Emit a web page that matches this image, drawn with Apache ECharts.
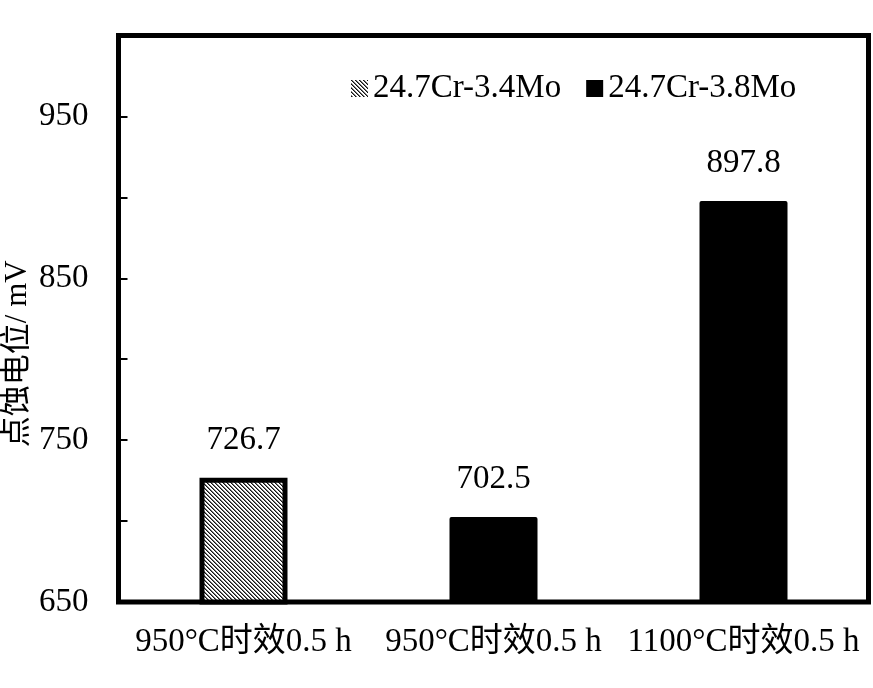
<!DOCTYPE html>
<html>
<head>
<meta charset="utf-8">
<script src="https://cdn.jsdelivr.net/npm/echarts@6/dist/echarts.min.js"></script>
<style>html,body{margin:0;padding:0;background:#fff;}#c{width:873px;height:688px;}</style>
</head>
<body>
<div id="c"></div>
<script>
const categories = ['950°C时效0.5 h', '950°C时效0.5 h', '1100°C时效0.5 h'];
const seriesNames = ['24.7Cr-3.4Mo', '24.7Cr-3.8Mo'];
const values34Mo = [726.7, '-', '-'];
const values38Mo = ['-', 702.5, 897.8];
const yTickLabels = [650, 750, 850, 950];
const yAxisName = '点蚀电位/ mV';

const FONT = "'Liberation Serif', 'Noto Sans CJK SC', serif";
const FS = 33;

function hatch() {
  const n = 8;
  const cv = document.createElement('canvas');
  cv.width = n; cv.height = n;
  const ctx = cv.getContext('2d');
  const img = ctx.createImageData(n, n);
  for (let y = 0; y < n; y++) {
    for (let x = 0; x < n; x++) {
      const d = (((x - y) % 4) + 4) % 4;
      let v = 255;
      if (d === 0) v = 20;
      else if (d === 1) v = 120;
      const i = (y * n + x) * 4;
      img.data[i] = v; img.data[i + 1] = v; img.data[i + 2] = v; img.data[i + 3] = 255;
    }
  }
  ctx.putImageData(img, 0, 0);
  return cv;
}
const pattern = { image: hatch(), repeat: 'repeat' };

const chart = echarts.init(document.getElementById('c'));
const labelStyle = {
  show: true, position: 'top', distance: 21,
  color: '#000', fontSize: FS, fontFamily: FONT,
  formatter: p => Number(p.value).toFixed(1)
};
chart.setOption({
  animation: false,
  backgroundColor: '#fff',
  grid: {
    left: 118.5, right: 4.5, top: 35.5, bottom: 86,
    outerBoundsMode: 'none', containLabel: false,
    show: true, borderColor: '#000', borderWidth: 5, backgroundColor: 'transparent'
  },
  legend: {
    left: 351, top: 72, padding: 0,
    itemWidth: 17, itemHeight: 17, itemGap: 25,
    icon: 'rect',
    textStyle: { color: '#000', fontSize: FS, fontFamily: FONT },
    data: [
      { name: seriesNames[0], itemStyle: { borderWidth: 0 } },
      { name: seriesNames[1] }
    ]
  },
  xAxis: {
    type: 'category',
    data: categories,
    axisLine: { show: false },
    axisTick: { show: false },
    axisLabel: { interval: 0, color: '#000', fontSize: FS, fontFamily: FONT, margin: 24, hideOverlap: false }
  },
  yAxis: {
    type: 'value',
    min: 650, max: 1000, interval: 50,
    name: yAxisName,
    nameLocation: 'middle',
    nameGap: 85,
    nameMoveOverlap: false,
    nameTextStyle: { color: '#000', fontSize: 31, fontFamily: FONT, padding: [0, 70, 0, 0] },
    splitLine: { show: false },
    axisLine: { show: false },
    axisTick: { show: true, inside: true, length: 9, lineStyle: { color: '#000', width: 2 } },
    axisLabel: {
      color: '#000', fontSize: FS, fontFamily: FONT, margin: 30,
      formatter: v => (yTickLabels.indexOf(v) >= 0 ? String(v) : '')
    }
  },
  series: [
    {
      name: seriesNames[0], type: 'bar', data: values34Mo,
      barWidth: 88, barGap: '-100%',
      itemStyle: { color: pattern, borderColor: '#000', borderWidth: 5 },
      label: labelStyle
    },
    {
      name: seriesNames[1], type: 'bar', data: values38Mo,
      barWidth: 88, barGap: '-100%',
      itemStyle: { color: '#000', borderRadius: [2, 2, 0, 0] },
      label: labelStyle
    }
  ]
});
</script>
</body>
</html>
